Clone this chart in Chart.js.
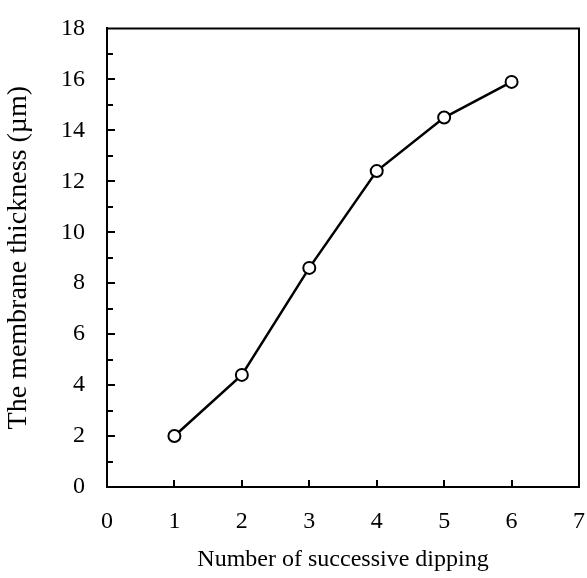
<!DOCTYPE html>
<html>
<head>
<meta charset="utf-8">
<script src="https://cdn.jsdelivr.net/npm/chart.js@4/dist/chart.umd.min.js"></script>
<style>
  html, body { margin: 0; padding: 0; background: #fff; }
  #wrap { width: 587px; height: 578px; }
</style>
</head>
<body>
<div id="wrap"><canvas id="chart"></canvas></div>
<script>
const dippings = [1, 2, 3, 4, 5, 6];
const thickness = [2.0, 4.4, 8.6, 12.4, 14.5, 15.9];
const xTicks = [0, 1, 2, 3, 4, 5, 6, 7];
const yTicks = [0, 2, 4, 6, 8, 10, 12, 14, 16, 18];

const serif = '"Liberation Serif", "Times New Roman", serif';

// inward tick marks plus the top/right frame
const frame = {
    id: 'frame',
    afterDatasetsDraw(chart) {
        const { ctx, chartArea: a, scales: { x, y } } = chart;
        ctx.save();
        ctx.strokeStyle = '#000';
        ctx.lineWidth = 2;
        ctx.beginPath();
        for (let v = 1; v < 18; v++) {
            const py = Math.round(y.getPixelForValue(v));
            const len = v % 2 === 0 ? 8 : 6;
            ctx.moveTo(a.left, py);
            ctx.lineTo(a.left + len, py);
        }
        for (let v = 1; v < 7; v++) {
            const px = Math.round(x.getPixelForValue(v));
            ctx.moveTo(px, a.bottom);
            ctx.lineTo(px, a.bottom - 7);
        }
        ctx.moveTo(a.left, a.top);
        ctx.lineTo(a.right, a.top);
        ctx.lineTo(a.right, a.bottom);
        ctx.stroke();
        ctx.restore();
    }
};

new Chart(document.getElementById('chart'), {
    type: 'scatter',
    data: {
        datasets: [{
            data: dippings.map((d, i) => ({ x: d, y: thickness[i] })),
            showLine: true,
            borderColor: '#000',
            borderWidth: 2.5,
            pointRadius: 6,
            pointHoverRadius: 6,
            pointBackgroundColor: '#fff',
            pointBorderColor: '#000',
            pointBorderWidth: 2,
        }]
    },
    options: {
        responsive: true,
        maintainAspectRatio: false,
        animation: false,
        layout: { padding: { top: 26, right: 0, left: 0, bottom: 0 } },
        plugins: { legend: { display: false }, tooltip: { enabled: false } },
        scales: {
            x: {
                min: 0, max: 7,
                afterBuildTicks: s => { s.ticks = xTicks.map(v => ({ value: v })); },
                afterFit: s => { s.height = 91; s.paddingRight = 7; },
                grid: { display: false },
                border: { display: true, color: '#000', width: 2 },
                ticks: { color: '#000', font: { family: serif, size: 24 }, padding: 12 },
                title: {
                    display: true, text: 'Number of successive dipping', color: '#000',
                    font: { family: serif, size: 24 }, padding: { top: 17 }
                }
            },
            y: {
                min: 0, max: 18,
                afterBuildTicks: s => { s.ticks = yTicks.map(v => ({ value: v })); },
                afterFit: s => { s.width = 107; },
                grid: { display: false },
                border: { display: true, color: '#000', width: 2 },
                ticks: { color: '#000', font: { family: serif, size: 24 }, padding: 14 },
                title: {
                    display: true, text: 'The membrane thickness (\u00b5m)', color: '#000',
                    font: { family: serif, size: 28 }, padding: { top: 2, bottom: 8 }
                }
            }
        }
    },
    plugins: [frame]
});
</script>
</body>
</html>
